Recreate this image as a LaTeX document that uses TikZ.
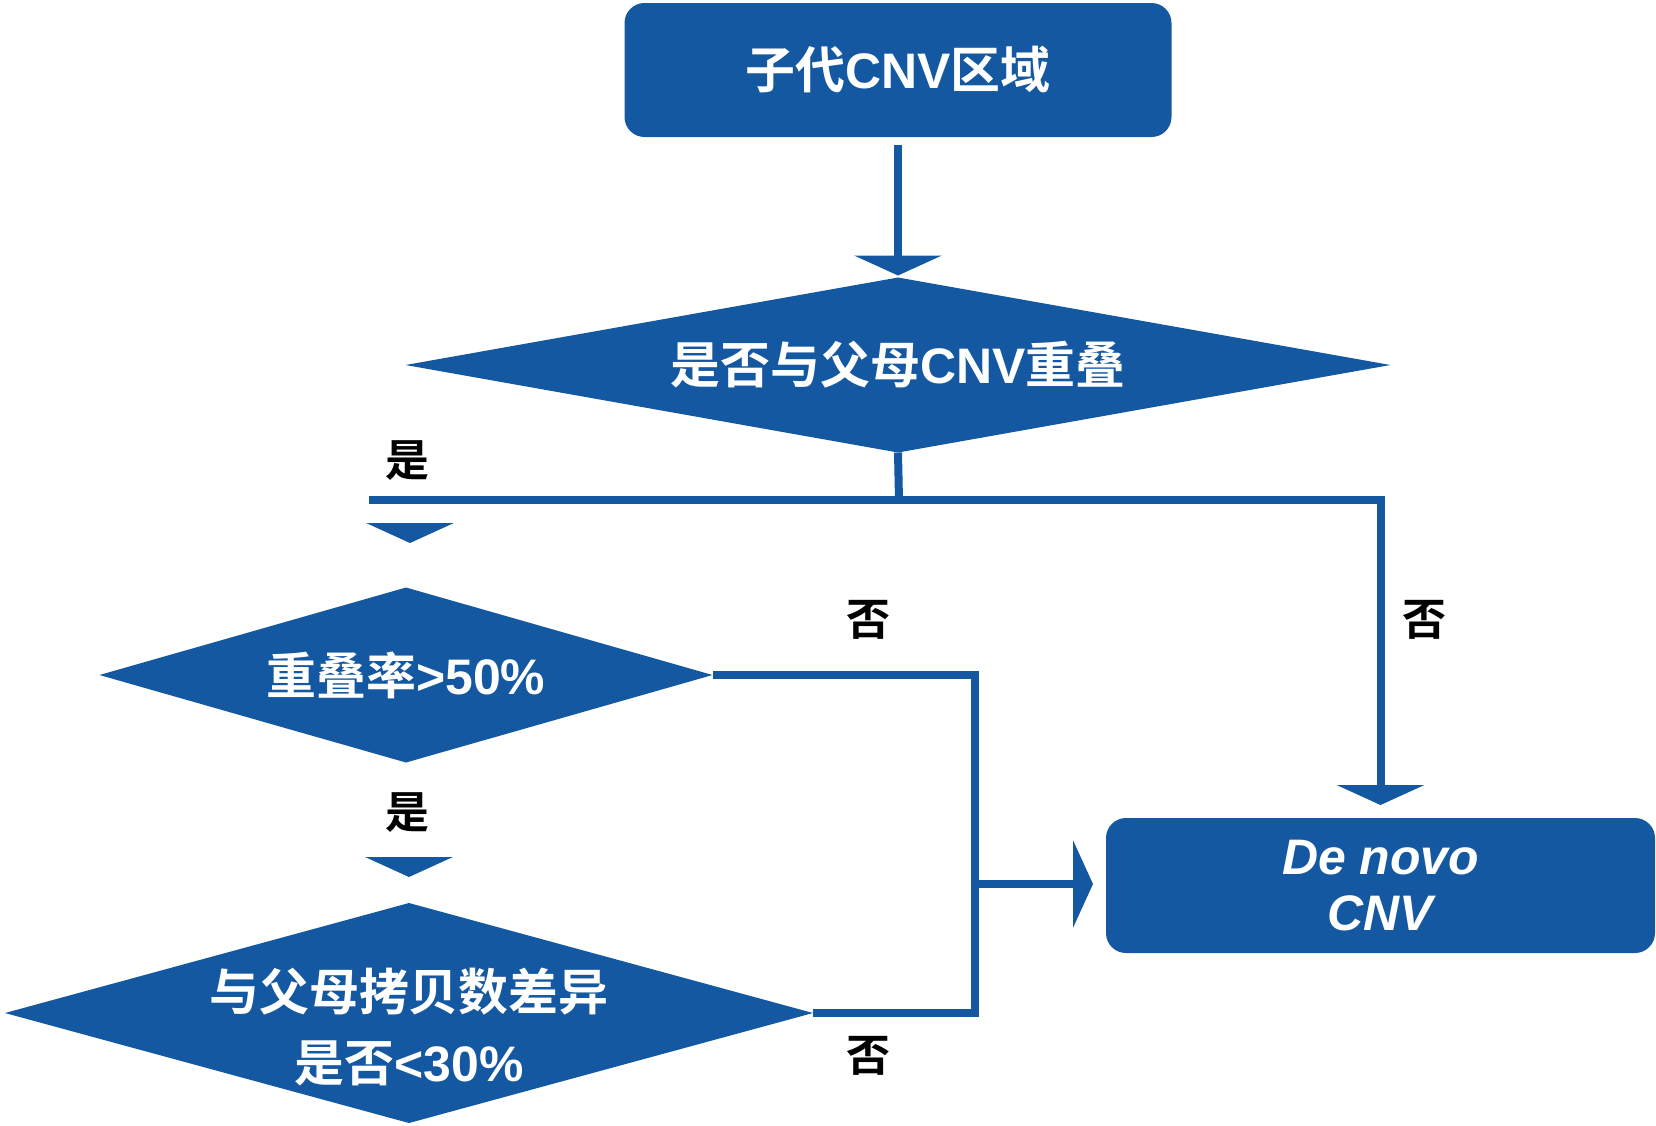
\documentclass[tikz,border=0pt]{standalone}
\usepackage{fontspec}
\setmainfont{Liberation Sans}[BoldFont={Liberation Sans Bold}, ItalicFont={Liberation Sans Italic}, BoldItalicFont={Liberation Sans Bold Italic}]
\newfontfamily\cjk{Noto Sans CJK SC}[BoldFont={Noto Sans CJK SC Bold}]
\usepackage{tikz}
\usetikzlibrary{shapes, arrows.meta, positioning}
\definecolor{cnvblue}{RGB}{20,88,162}
\newcommand{\zhtext}[1]{{\cjk\bfseries #1}}
\tikzstyle{startstop} = [rectangle, rounded corners=0.2cm, minimum width=5.47cm, minimum height=1.34cm, text centered, fill=cnvblue, text=white, inner sep=0pt, outer sep=0pt, font=\fontsize{14.2}{20}\selectfont\bfseries]
\tikzstyle{decision} = [diamond, fill=cnvblue, text=white, align=center, inner sep=0pt, outer sep=0pt, font=\fontsize{14.2}{20}\selectfont\bfseries]
\tikzstyle{answer} = [text=black, inner sep=0pt, font=\fontsize{12.5}{14}\selectfont\bfseries]
\tikzstyle{flowline} = [draw=cnvblue, line width=0.08cm]
\tikzstyle{flowarrow} = [flowline, -{Triangle[width=0.87cm, length=0.2cm]}]

\begin{document}
\begin{tikzpicture}[node distance=3cm]
\useasboundingbox (0,0) rectangle (16.56,-11.25);
\node (start) [startstop] at (8.98,-0.70) {\zhtext{子代}CNV\zhtext{区域}};
\node (dec1) [decision, below of=start, yshift=0.05cm, minimum width=9.85cm, minimum height=1.75cm, aspect=5.6] {\zhtext{是否与父母}CNV\zhtext{重叠}};
\node (dec2) [decision, below of=dec1, xshift=-4.92cm, yshift=-0.10cm, minimum width=6.13cm, minimum height=1.75cm, aspect=3.5] {\zhtext{重叠率}>50\%};
\node (dec3) [decision, below of=dec2, xshift=0.03cm, yshift=-0.38cm, minimum width=8.08cm, minimum height=2.2cm, aspect=3.67, inner ysep=-0.3cm] {\rule{0pt}{20pt}\zhtext{与父母拷贝数差异}\\\zhtext{是否}<30\%};
\node (novo) [startstop, below of=dec1, xshift=4.825cm, yshift=-2.205cm, minimum width=5.49cm, minimum height=1.35cm, align=center, font=\fontsize{14.2}{16}\selectfont\bfseries\itshape] {De novo\\CNV};

\node (yes1) [answer] at (4.07,-4.61) {\zhtext{是}};
\node (no1) [answer] at (8.68,-6.20) {\zhtext{否}};
\node (no2) [answer] at (14.24,-6.20) {\zhtext{否}};
\node (yes2) [answer] at (4.07,-8.13) {\zhtext{是}};
\node (no3) [answer] at (8.68,-10.56) {\zhtext{否}};

\coordinate (split) at (8.99,-5.00);
\coordinate (yesend) at (3.69,-5.00);
\coordinate (tip1) at (4.10,-5.23);
\coordinate (tip2) at (4.09,-8.57);
\coordinate (join) at (9.75,-8.84);

\draw[flowarrow, shorten <=0.08cm, shorten >=0.02cm] (start) -- (dec1);
\draw[flowline] (dec1.south) -- (split);
\draw[flowline] (split) -- (yesend);
\draw[flowarrow, shorten >=0.13cm] (split) -| (novo.north);
\draw[flowarrow, shorten >=0.445cm] (tip1) -- (tip1 |- dec2.north);
\draw[flowarrow, shorten >=0.26cm] (tip2) -- (tip2 |- dec3.north);
\draw[flowline] (dec2.east) -| (join);
\draw[flowline] (dec3.east) -| (join);
\draw[flowarrow, shorten >=0.13cm] (join) -- (join -| novo.west);
\end{tikzpicture}
\end{document}
